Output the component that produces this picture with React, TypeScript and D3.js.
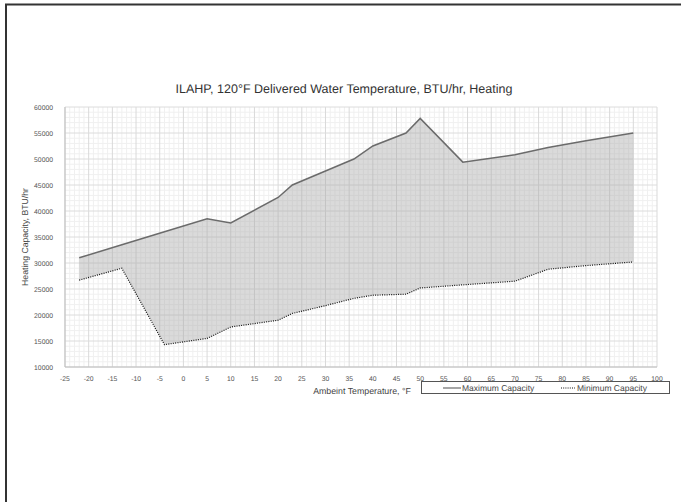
import * as d3 from "d3";

// ambient temperature, °F
const temps = [-22, -13, -4, 5, 10, 20, 23, 30, 36, 40, 47, 50, 59, 70, 77, 85, 95];
// BTU/hr
const maxCapacity = [31000, 33500, 36000, 38500, 37700, 42600, 45000, 47700, 50000, 52500, 55000, 57800, 49400, 50800, 52200, 53500, 55000];
const minCapacity = [26700, 29000, 14300, 15500, 17700, 19000, 20300, 21800, 23200, 23800, 24000, 25200, 25800, 26500, 28800, 29500, 30200];

const xTicks = d3.range(-25, 101, 5);
const yTicks = d3.range(10000, 60001, 5000);

const title = "ILAHP, 120°F Delivered Water Temperature, BTU/hr, Heating";
const xTitle = "Ambeint Temperature, °F";
const yTitle = "Heating Capacity, BTU/hr";
const seriesNames = ["Maximum Capacity", "Minimum Capacity"];

export default function App() {
  const width = 681;
  const height = 502;
  const font = "'Liberation Sans', Arial, sans-serif";

  const x = d3.scaleLinear().domain([-25, 100]).range([65, 657]);
  const y = d3.scaleLinear().domain([10000, 60000]).range([367, 107]);

  const rows = temps.map((t, i) => ({ t, hi: maxCapacity[i], lo: minCapacity[i] }));

  const area = d3
    .area<{ t: number; hi: number; lo: number }>()
    .x((d) => x(d.t))
    .y0((d) => y(d.lo))
    .y1((d) => y(d.hi));
  const lineHi = d3
    .line<{ t: number; hi: number; lo: number }>()
    .x((d) => x(d.t))
    .y((d) => y(d.hi));
  const lineLo = d3
    .line<{ t: number; hi: number; lo: number }>()
    .x((d) => x(d.t))
    .y((d) => y(d.lo));

  const minorX = d3.range(-25, 101, 1).filter((v) => v % 5 !== 0);
  const minorY = d3.range(10000, 60001, 1000).filter((v) => v % 5000 !== 0);

  return (
    <svg
      width={width}
      height={height}
      style={{ position: "absolute", left: 0, top: 0, background: "#fff" }}
      fontFamily={font}
      textRendering="geometricPrecision"
    >
      {/* frame */}
      <path d={`M6,${height} V4.5 H${width}`} fill="none" stroke="#333" strokeWidth={2} />

      <text x={344} y={93} textAnchor="middle" fontSize={12.5} fill="#333">
        {title}
      </text>

      {/* grid */}
      <g>
        {minorX.map((v) => (
          <line key={"mx" + v} x1={x(v)} x2={x(v)} y1={y(60000)} y2={y(10000)} stroke="#f0f0f0" strokeWidth={1} />
        ))}
        {minorY.map((v) => (
          <line key={"my" + v} x1={x(-25)} x2={x(100)} y1={y(v)} y2={y(v)} stroke="#f0f0f0" strokeWidth={1} />
        ))}
        {xTicks.map((v) => (
          <line key={"gx" + v} x1={x(v)} x2={x(v)} y1={y(60000)} y2={y(10000)} stroke="#d9d9d9" strokeWidth={1} />
        ))}
        {yTicks.map((v) => (
          <line key={"gy" + v} x1={x(-25)} x2={x(100)} y1={y(v)} y2={y(v)} stroke="#dcdcdc" strokeWidth={1} />
        ))}
      </g>

      {/* axes */}
      <line x1={x(-25)} x2={x(-25)} y1={y(60000)} y2={y(10000)} stroke="#bfbfbf" strokeWidth={1} />
      <line x1={x(-25)} x2={x(100)} y1={y(10000)} y2={y(10000)} stroke="#bfbfbf" strokeWidth={1} />

      {/* series */}
      <path d={area(rows) ?? ""} fill="#a8a8a8" fillOpacity={0.42} />
      <path d={lineHi(rows) ?? ""} fill="none" stroke="#6b6b6b" strokeWidth={1.5} />
      <path d={lineLo(rows) ?? ""} fill="none" stroke="#111" strokeWidth={1.2} strokeDasharray="1 1.3" />

      {/* tick labels */}
      {xTicks.map((v) => (
        <text key={"tx" + v} x={x(v)} y={381} textAnchor="middle" fontSize={6.8} fill="#555">
          {v}
        </text>
      ))}
      {yTicks.map((v) => (
        <text key={"ty" + v} x={53} y={y(v) + 2.5} textAnchor="end" fontSize={6.8} fill="#555">
          {v}
        </text>
      ))}

      <text x={362} y={394} textAnchor="middle" fontSize={8.8} fill="#444">
        {xTitle}
      </text>
      <text
        transform={`translate(28,${y(35000)}) rotate(-90)`}
        textAnchor="middle"
        fontSize={8.7}
        fill="#444"
      >
        {yTitle}
      </text>

      {/* legend */}
      <rect x={421.5} y={381.5} width={248} height={12} fill="#fff" stroke="#555" strokeWidth={1} />
      <line x1={443} x2={461} y1={388} y2={388} stroke="#6b6b6b" strokeWidth={1.2} />
      <text x={462} y={391} fontSize={8.5} fill="#444">
        {seriesNames[0]}
      </text>
      <line x1={561} x2={575} y1={388} y2={388} stroke="#111" strokeWidth={1} strokeDasharray="1 1.2" />
      <text x={577} y={391} fontSize={8.5} fill="#444">
        {seriesNames[1]}
      </text>
    </svg>
  );
}
